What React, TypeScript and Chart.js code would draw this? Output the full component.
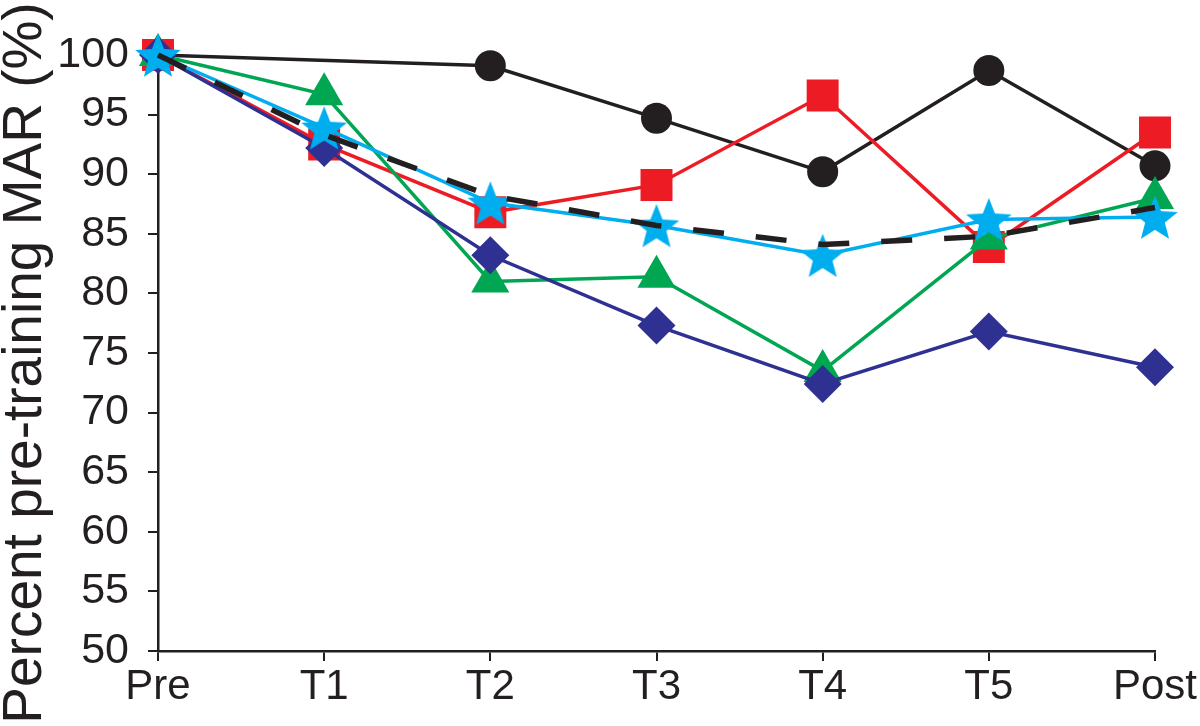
import React, { useEffect, useRef } from "react";
import { Chart, registerables } from "chart.js";

Chart.register(...registerables);

const categories = ["Pre", "T1", "T2", "T3", "T4", "T5", "Post"];
const yTicks = [50, 55, 60, 65, 70, 75, 80, 85, 90, 95, 100];
const seriesBlack = [100, null, 99.1, 94.7, 90.2, 98.7, 90.7];
const seriesRed = [100, 92.5, 86.8, 89.1, 96.6, 83.9, 93.5];
const seriesGreen = [100, 96.7, 81.0, 81.4, 73.5, 84.6, 88.0];
const seriesNavy = [100, 92.2, 83.2, 77.3, 72.4, 76.8, 73.8];
const seriesCyan = [100, 93.9, 87.6, 85.7, 83.2, 86.2, 86.4];
const seriesMean = [100, 93.3, 88.2, 85.7, 84.1, 84.8, 87.2];
const yTitle = "Percent pre-training MAR (%)";

const INK = "#231f20";
const FONT = "'Liberation Sans', Arial, Helvetica, sans-serif";

function makeStar(R: number, color: string): HTMLCanvasElement {
  const size = Math.ceil(2 * R + 2);
  const c = document.createElement("canvas");
  c.width = size;
  c.height = size;
  const ctx = c.getContext("2d")!;
  const cx = size / 2;
  const cy = size / 2 + R * 0.1;
  const r = R * 0.43;
  ctx.beginPath();
  for (let i = 0; i < 10; i++) {
    const ang = -Math.PI / 2 + (i * Math.PI) / 5;
    const rad = i % 2 === 0 ? R : r;
    const x = cx + rad * Math.cos(ang);
    const y = cy + rad * Math.sin(ang);
    if (i === 0) ctx.moveTo(x, y);
    else ctx.lineTo(x, y);
  }
  ctx.closePath();
  ctx.fillStyle = color;
  ctx.fill();
  return c;
}

const yTitlePlugin = {
  id: "yTitlePlugin",
  afterDraw(chart: any) {
    const ctx = chart.ctx;
    ctx.save();
    ctx.translate(41, 363);
    ctx.rotate(-Math.PI / 2);
    ctx.font = `55px ${FONT}`;
    ctx.fillStyle = INK;
    ctx.textAlign = "center";
    ctx.textBaseline = "alphabetic";
    ctx.fillText(yTitle, 0, 0);
    ctx.restore();
  },
};

export default function App() {
  const ref = useRef<HTMLCanvasElement | null>(null);
  useEffect(() => {
    if (!ref.current) return;
    const star = makeStar(24, "#00aeef");
    const chart = new Chart(ref.current, {
      type: "line",
      data: {
        labels: categories,
        datasets: [
          {
            label: "Mean",
            data: seriesMean,
            borderColor: INK,
            borderWidth: 5.5,
            borderDash: [31, 32],
            borderCapStyle: "butt",
            pointRadius: 0,
            order: 0,
          },
          {
            label: "Cyan",
            data: seriesCyan,
            borderColor: "#00aeef",
            backgroundColor: "#00aeef",
            borderWidth: 3.5,
            pointStyle: star as any,
            pointRadius: 24,
            order: 1,
          },
          {
            label: "Navy",
            data: seriesNavy,
            borderColor: "#2e3192",
            backgroundColor: "#2e3192",
            borderWidth: 3.5,
            pointStyle: "rectRot",
            pointRadius: 19,
            pointBorderWidth: 0,
            order: 2,
          },
          {
            label: "Green",
            data: seriesGreen,
            borderColor: "#00a651",
            backgroundColor: "#00a651",
            borderWidth: 3.5,
            pointStyle: "triangle",
            pointRadius: 22,
            pointBorderWidth: 0,
            order: 3,
          },
          {
            label: "Red",
            data: seriesRed,
            borderColor: "#ed1c24",
            backgroundColor: "#ed1c24",
            borderWidth: 3.5,
            pointStyle: "rect",
            pointRadius: 22.6,
            pointBorderWidth: 0,
            order: 4,
          },
          {
            label: "Black",
            data: seriesBlack,
            borderColor: INK,
            backgroundColor: INK,
            borderWidth: 3.5,
            pointStyle: "circle",
            pointRadius: 15.5,
            pointBorderWidth: 0,
            spanGaps: true,
            order: 5,
          },
        ],
      },
      options: {
        responsive: false,
        animation: false,
        events: [],
        layout: { padding: { top: 55, right: 45, bottom: 0, left: 0 } },
        plugins: { legend: { display: false }, tooltip: { enabled: false } },
        elements: { line: { tension: 0 } },
        datasets: { line: { clip: false } as any },
        scales: {
          x: {
            type: "category",
            offset: false,
            afterFit: (s: any) => {
              s.height = 75;
            },
            grid: {
              drawOnChartArea: false,
              drawTicks: true,
              tickLength: 10,
              color: INK,
              lineWidth: 2,
            },
            border: { display: true, color: INK, width: 2.5 },
            ticks: {
              color: INK,
              font: { family: FONT, size: 42 },
              padding: 1,
              maxRotation: 0,
              autoSkip: false,
            },
          },
          y: {
            min: 50,
            max: 100,
            afterFit: (s: any) => {
              s.width = 158;
            },
            afterBuildTicks: (s: any) => {
              s.ticks = yTicks.map((v) => ({ value: v }));
            },
            grid: {
              drawOnChartArea: false,
              drawTicks: true,
              tickLength: 10,
              color: INK,
              lineWidth: 2,
            },
            border: { display: true, color: INK, width: 2.5 },
            ticks: {
              color: INK,
              font: { family: FONT, size: 43 },
              padding: 19,
            },
            title: { display: false },
          },
        },
      },
      plugins: [yTitlePlugin],
    });
    return () => chart.destroy();
  }, []);
  return (
    <div style={{ position: "fixed", left: 0, top: 0, width: 1200, height: 726, background: "#fff" }}>
      <canvas ref={ref} width={1200} height={726} style={{ display: "block" }} />
    </div>
  );
}
